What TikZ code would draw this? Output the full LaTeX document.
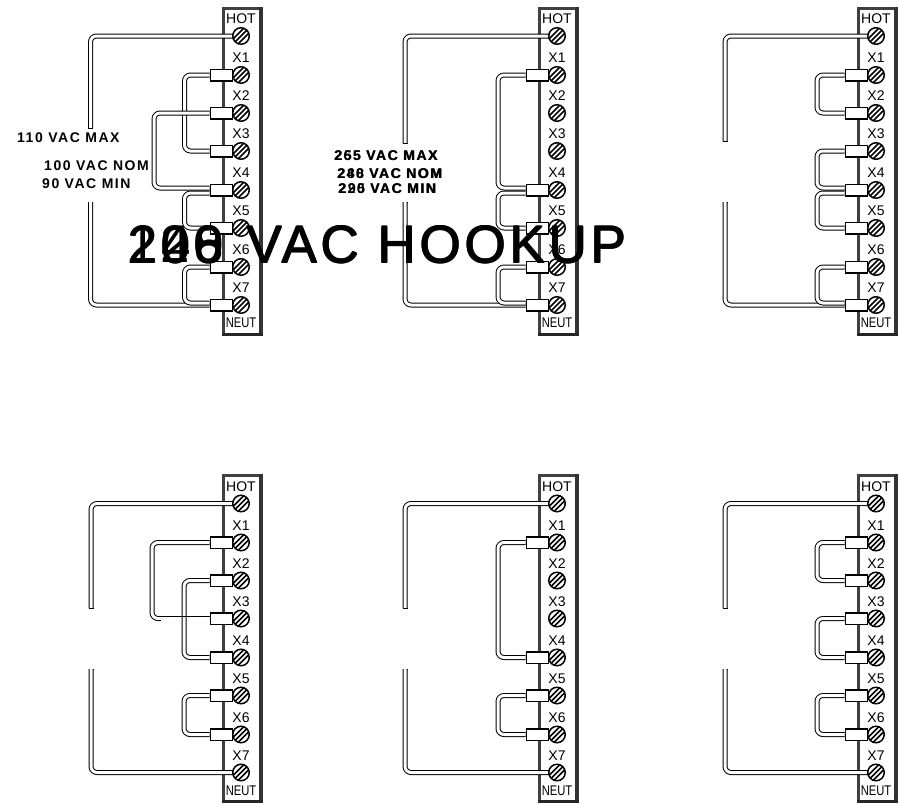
\documentclass[tikz,border=0pt]{standalone}
\usepackage{fontspec}
\setmainfont{Liberation Sans}
\tikzset{
  x=1pt,y=-1pt,
  wire/.style={draw=black,line width=1pt,double=white,double distance=3pt,rounded corners=6pt,line join=round},
  endcap/.style={draw=black,line width=1pt},
  lug/.style={draw=black,fill=white,line width=1.5pt,minimum width=22pt,minimum height=11.5pt,inner sep=0pt},
  screwnode/.style={circle,draw=black,fill=white,line width=1.5pt,minimum size=16.5pt,inner sep=0pt},
  tlabel/.style={font=\fontsize{14}{14}\selectfont,inner sep=0pt,text=black},
  tlabelnarrow/.style={inner sep=0pt,text=black},
  vlabel/.style={font=\fontsize{14}{14}\selectfont\bfseries\addfontfeature{LetterSpace=11},inner sep=0pt,anchor=west},
  titlelabel/.style={font=\fontsize{53}{53}\selectfont\addfontfeature{LetterSpace=7},inner sep=0pt,anchor=west}
}
% #1 prefix, #2 x offset, #3 y offset
\newcommand{\tstrip}[3]{%
  \begin{scope}[shift={(#2,#3)}]
    \draw[line width=3pt,draw=black!75] (223,334) -- (223,8) -- (261,8);
    \draw[line width=4pt,draw=black!80] (260.5,6.5) -- (260.5,334);
    \draw[line width=3pt,draw=black!85] (221.5,334) -- (262.5,334);
    \foreach \n/\yy/\txt in {H/36/HOT,1/75/X1,2/113/X2,3/151/X3,4/190/X4,5/228/X5,6/267/X6,7/305/X7}{
      \coordinate (#1\n) at (241,\yy);
      \node[tlabel] (#1l\n) at (241,\yy-17) {\txt};
    }
    \node[tlabelnarrow] (#1lN) at (241,323) {\fontsize{14}{14}\selectfont\addfontfeature{FakeStretch=0.8}NEUT};
  \end{scope}}
\newcommand{\tscrews}[3]{%
  \begin{scope}[shift={(#2,#3)}]
    \foreach \n/\yy in {H/36,1/75,2/113,3/151,4/190,5/228,6/267,7/305}{
      \node[screwnode] (#1s\n) at (241,\yy) {};
      \begin{scope}
        \clip (241,\yy) circle (8);
        \foreach \d in {-2.5,0,2.5}{
          \draw[line width=1.7pt] (241-10+\d,\yy+10+\d) -- (241+10+\d,\yy-10+\d);
        }
      \end{scope}
    }
  \end{scope}}
\newcommand{\tlug}[2]{\node[lug,anchor=east] (#1lug#2) at ([xshift=-8pt]#1#2) {};}
% jumper: prefix, from, to, wire x, y offset at from, y offset at to
\newcommand{\jump}[6]{%
  \coordinate (#1c#2#3) at (#4,0);
  \draw[wire] ([yshift=#5]#1lug#2.west) -- ([yshift=#5]#1lug#2.west -| #1c#2#3) -- ([yshift=#6]#1lug#3.west -| #1c#2#3) -- ([yshift=#6]#1lug#3.west);}
\newcommand{\lugset}{%
  \foreach \p/\lst in {a/{1,2,3,4,5,6,7},b/{1,4,5,6,7},c/{1,2,3,4,5,6,7},d/{1,2,3,4,5,6},e/{1,4,5,6},f/{1,2,3,4,5,6}}{
    \foreach \q in \lst { \tlug{\p}{\q} }
  }}
\begin{document}
\begin{tikzpicture}
\useasboundingbox (0,0) rectangle (899,803);
% strips
\tstrip{a}{0}{0}
\tstrip{b}{316}{0}
\tstrip{c}{635}{0}
\tstrip{d}{0}{467.5}
\tstrip{e}{316}{467.5}
\tstrip{f}{635}{467.5}
% feed wires
\coordinate (aup) at (90.5,128); \coordinate (alo) at (90.5,202);
\coordinate (bup) at (405,143);  \coordinate (blo) at (405,202);
\coordinate (cup) at (725,141);  \coordinate (clo) at (725,202);
\coordinate (dup) at (91,608);   \coordinate (dlo) at (91,669);
\coordinate (eup) at (405,608);  \coordinate (elo) at (405,669);
\coordinate (fup) at (725,608);  \coordinate (flo) at (725,669);
\foreach \p in {a,b,c,d,e,f}{
  \draw[wire] (\p H) -- (\p H -| \p up) -- (\p up);
  \draw[endcap] ([xshift=-2.5pt]\p up) -- ([xshift=2.5pt]\p up);
  \draw[endcap] ([xshift=-2.5pt]\p lo) -- ([xshift=2.5pt]\p lo);
}
\lugset
% lower feed
\foreach \p in {a,b,c}{
  \draw[wire] (\p lo) -- (\p lo |- \p lug7.west) -- (\p lug7.west);
}
\foreach \p in {d,e,f}{
  \draw[wire] (\p lo) -- (\p lo |- \p 7) -- (\p 7);
}
% jumpers
\jump{a}{1}{3}{184.5}{0pt}{0pt}
\jump{a}{2}{4}{154}{0pt}{2pt}
\jump{a}{4}{5}{184.5}{-3pt}{0pt}
\jump{a}{6}{7}{184.5}{0pt}{2pt}
\jump{b}{1}{4}{498}{0pt}{2pt}
\jump{b}{4}{5}{498}{-3pt}{0pt}
\jump{b}{6}{7}{498}{0pt}{2pt}
\jump{c}{1}{2}{817}{0pt}{0pt}
\jump{c}{3}{4}{817}{0pt}{2pt}
\jump{c}{4}{5}{817}{-3pt}{0pt}
\jump{c}{6}{7}{817}{0pt}{2pt}
\jump{d}{1}{3}{152}{0pt}{0pt}
% the run into X3 of the fourth strip prints as a single line
\coordinate (dsingle) at ([xshift=8pt]dc13 |- dlug3.west);
\draw[draw=white,line width=6pt] (dsingle) -- (dlug3.west);
\jump{d}{2}{4}{184}{0pt}{0pt}
\draw[draw=black,line width=1.2pt] ([yshift=2pt]dsingle) -- ([yshift=2pt]dlug3.west);
\draw[draw=black,line width=1pt] ([yshift=-2pt]dsingle) -- ([yshift=-2pt,xshift=1pt]dsingle);
\jump{d}{5}{6}{184}{0pt}{0pt}
\jump{e}{1}{4}{498}{0pt}{0pt}
\jump{e}{5}{6}{498}{0pt}{0pt}
\jump{f}{1}{2}{817}{0pt}{0pt}
\jump{f}{3}{4}{817}{0pt}{0pt}
\jump{f}{5}{6}{817}{0pt}{0pt}
% lugs and screws over the wires
\lugset
\tscrews{a}{0}{0}
\tscrews{b}{316}{0}
\tscrews{c}{635}{0}
\tscrews{d}{0}{467.5}
\tscrews{e}{316}{467.5}
\tscrews{f}{635}{467.5}
% voltage labels
\node[vlabel] (v1) at (17,138) {110 VAC MAX};
\node[vlabel] (v2) at (44,166) {100 VAC NOM};
\node[vlabel] (v3) at (42,184) {90 VAC MIN};
\node[vlabel] (v4a) at (334,156) {265 VAC MAX};
\node[vlabel] (v4b) at (334.6,156) {255 VAC MAX};
\node[vlabel] (v5a) at (337,174) {240 VAC NOM};
\node[vlabel] (v5b) at (337.6,174) {288 VAC NOM};
\node[vlabel] (v6a) at (338,189) {220 VAC MIN};
\node[vlabel] (v6b) at (338.6,189) {295 VAC MIN};
% titles overprinted
\node[titlelabel] (t1) at (127,244) {120\hspace{5pt} VAC HOOKUP};
\node[titlelabel] (t2) at (128,244) {240\hspace{5pt} VAC HOOKUP};
\node[titlelabel] (t3) at (127,245) {206\hspace{5pt} VAC HOOKUP};
\node[titlelabel] (t4) at (128,245) {208\hspace{5pt} VAC HOOKUP};
\end{tikzpicture}
\end{document}
